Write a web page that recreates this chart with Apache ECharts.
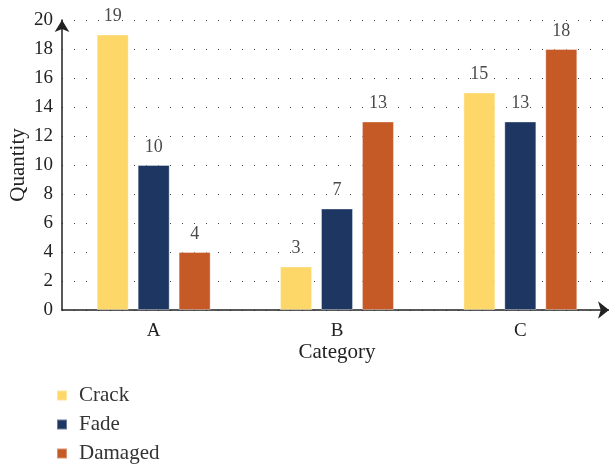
<!DOCTYPE html>
<html>
<head>
<meta charset="utf-8">
<script src="https://cdn.jsdelivr.net/npm/echarts@6/dist/echarts.min.js"></script>
<style>
  html, body { margin: 0; padding: 0; background: #fff; }
  #chart { width: 609px; height: 466px; }
</style>
</head>
<body>
<div id="chart"></div>
<script>
// Quantities per category for each defect type
const categories = ['A', 'B', 'C'];
const crack = [19, 3, 15];
const fade = [10, 7, 13];
const damaged = [4, 13, 18];
const seriesNames = ['Crack', 'Fade', 'Damaged'];
const seriesColors = ['#FDD868', '#1D3762', '#C55A27'];
const yTicks = { min: 0, max: 20, interval: 2 };

const FONT = '"Liberation Serif", "DejaVu Serif", serif';

const chart = echarts.init(document.getElementById('chart'), null, { renderer: 'canvas' });

function barSeries(name, data, color) {
  return {
    name: name,
    type: 'bar',
    data: data,
    barWidth: 32,
    barGap: '28%',
    itemStyle: { color: color, borderColor: 'rgba(255,255,255,0.35)', borderWidth: 1 },
    label: {
      show: true,
      position: 'top',
      distance: 9,
      fontFamily: FONT,
      fontSize: 18,
      color: '#4a4a4a'
    }
  };
}

chart.setOption({
  animation: false,
  backgroundColor: '#ffffff',
  grid: { left: 62, right: -3, top: 20, bottom: 156, containLabel: false, outerBoundsMode: 'none' },
  legend: {
    orient: 'vertical',
    left: 51,
    top: 380,
    height: 90,
    itemWidth: 10,
    itemHeight: 10,
    itemGap: 8,
    icon: 'rect',
    textStyle: { fontFamily: FONT, fontSize: 21, color: '#333', padding: [0, 0, 0, 7] },
    data: seriesNames
  },
  xAxis: {
    type: 'category',
    data: categories,
    name: 'Category',
    nameLocation: 'middle',
    nameGap: 32,
    nameMoveOverlap: false,
    nameTextStyle: { fontFamily: FONT, fontSize: 21, color: '#222' },
    axisLine: {
      lineStyle: { color: '#222', width: 1.5 },
      symbol: ['none', 'arrow'],
      symbolSize: [13, 11],
      symbolOffset: [0, -3]
    },
    axisTick: { show: false },
    axisLabel: { fontFamily: FONT, fontSize: 19, color: '#222', margin: 12 },
    splitLine: { show: false }
  },
  yAxis: {
    type: 'value',
    min: yTicks.min,
    max: yTicks.max,
    interval: yTicks.interval,
    name: 'Quantity',
    nameLocation: 'middle',
    nameGap: 33,
    nameMoveOverlap: false,
    nameTextStyle: { fontFamily: FONT, fontSize: 21, color: '#222' },
    axisLine: {
      show: true,
      lineStyle: { color: '#222', width: 1.5 },
      symbol: ['none', 'arrow'],
      symbolSize: [11, 12],
      symbolOffset: [0, 0]
    },
    axisTick: { show: false },
    axisLabel: { fontFamily: FONT, fontSize: 19, color: '#222', margin: 9 },
    splitLine: { show: true, lineStyle: { color: '#444', width: 1, type: [1, 11] } }
  },
  series: [
    barSeries(seriesNames[0], crack, seriesColors[0]),
    barSeries(seriesNames[1], fade, seriesColors[1]),
    barSeries(seriesNames[2], damaged, seriesColors[2])
  ]
});
</script>
</body>
</html>
